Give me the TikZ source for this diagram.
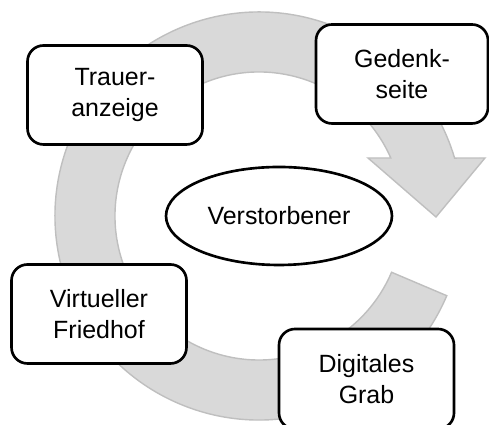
\documentclass[tikz,border=0pt]{standalone}
\usepackage{fontspec}
\setmainfont{Liberation Sans}
\usetikzlibrary{calc,shapes.geometric}
\tikzset{
    stage/.style={draw=black,fill=white,line width=1.5pt,rounded corners=0.32cm,
        minimum width=3.5cm,minimum height=1.98cm,align=center,
        font=\fontsize{14.2}{17.6}\selectfont},
    ringarrow/.style={fill=gray!30,draw=gray!50,line width=0.8pt}
}
\begin{document}
\begin{tikzpicture}
    \useasboundingbox (0,0) rectangle (9.78,8.5);
    \clip (0,0) rectangle (9.78,8.5);
    \coordinate (RingCenter) at (5.18,4.18);
    % circular arrow
    \draw[ringarrow] ($(RingCenter)+(-23:4.08)$) arc[start angle=-23,end angle=-343.5,radius=4.08]
        -- (9.70,5.34) coordinate(HeadRight) -- (8.72,4.16) coordinate(HeadTip)
        -- (7.36,5.34) coordinate(HeadLeft)
        -- ($(RingCenter)+(23.75:2.88)$) arc[start angle=23.75,end angle=337,radius=2.88] -- cycle;
    % stages
    \node[stage] (Trauer) at (2.30,6.60) {Trauer-\\anzeige};
    \node[stage,minimum width=3.44cm] (Gedenk) at (8.04,7.02) {Gedenk-\\seite};
    \node[stage] (Friedhof) at (1.98,2.22) {Virtueller\\Friedhof};
    \node[stage,minimum height=2.0cm] (Grab) at (7.33,0.92) {Digitales\\Grab};
    \node[draw,ellipse,line width=1.5pt,minimum width=4.52cm,minimum height=1.96cm,inner sep=0pt,
        font=\fontsize{14.2}{17.6}\selectfont] (Verstorbener) at (5.58,4.18) {Verstorbener};
\end{tikzpicture}
\end{document}
